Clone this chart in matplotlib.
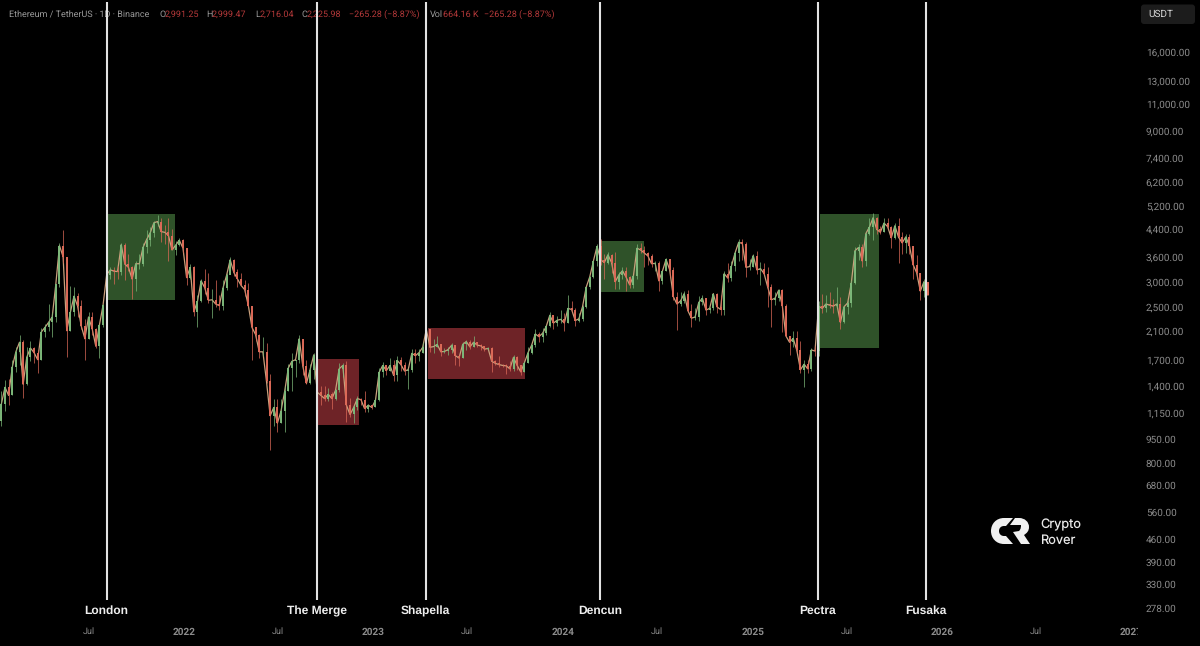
#!/usr/bin/python

import numpy as np
import pandas as pd
import matplotlib as mpl
mpl.use("Agg")
import matplotlib.pyplot as plt
import matplotlib.dates as mdates
from matplotlib.patches import PathPatch, FancyBboxPatch, Rectangle
from matplotlib.path import Path
from matplotlib.transforms import Bbox

mpl.rc('font', family=['Roboto', 'DejaVu Sans'], size=7)
mpl.rc('text', hinting='none', hinting_factor=1)

# weekly candles, one list per calendar year
closes_2021 = [1230,1390,1310,1610,1800,1930,1420,1730,1850,1790,1700,2080,2150,2230,2320,2950,3900,3600,2100,2400,
	2700,2510,2170,1980,2320,2130,1875,2190,2530,3160,3270,3240,3230,3930,3410,3330,3060,3420,3420,3850,
	4080,4290,4610,4650,4320,4300,4200,3780,3920,4060]
highs_2021 = [1350,1470,1480,1690,1870,2040,1960,1870,1950,1870,1830,2140,2200,2545,2400,2950,3980,4372,3570,2900,
	2890,2770,2620,2280,2400,2410,2140,2200,2550,3180,3330,3340,3370,3980,3970,3680,3370,3480,3660,3970,
	4370,4460,4660,4868,4780,4550,4780,4420,4050,4130]
lows_2021 = [1050,1170,1220,1310,1550,1640,1290,1410,1680,1660,1540,1700,2000,2100,2000,2240,2880,3450,1730,2100,
	2340,2320,2130,1700,1980,2040,1850,1720,2150,2440,3050,2950,3050,3150,3030,3240,2650,2800,3280,3370,
	3690,3900,4150,4500,4000,3950,3500,3880,3650,3900]

closes_2022 = [3830,3090,3330,2410,2600,3020,2870,2620,2630,2550,2520,2860,3140,3520,3210,3060,2920,2830,2520,2150,
	2040,1800,1800,1450,1130,1200,1070,1170,1350,1600,1680,1700,1980,1620,1430,1580,1760,1340,1310,1280,
	1320,1280,1360,1590,1630,1220,1140,1200,1280,1270,1190,1220]
highs_2022 = [4100,3840,3420,3370,2720,3060,3280,3200,2840,3040,2730,3040,3190,3580,3550,3300,3190,3030,2970,2450,
	2160,2050,2000,1920,1530,1280,1280,1280,1400,1650,1780,1700,2030,1960,1700,1650,1790,1780,1400,1400,
	1380,1340,1370,1660,1660,1680,1290,1220,1300,1285,1350,1230]
lows_2022 = [3700,2930,3050,2330,2160,2580,2750,2570,2300,2500,2450,2450,2830,3180,3120,2880,2910,2710,2500,1700,
	1950,1720,1750,1430,880,1050,1000,1070,1000,1350,1350,1500,1660,1520,1420,1420,1480,1300,1220,1260,
	1260,1190,1270,1340,1500,1080,1120,1070,1180,1220,1160,1160]

closes_2023 = [1200,1265,1550,1630,1570,1630,1515,1690,1640,1565,1580,1780,1750,1790,1860,2120,1860,1870,1900,1800,
	1805,1830,1890,1750,1720,1900,1940,1865,1930,1890,1880,1835,1845,1680,1655,1640,1630,1625,1590,1730,
	1630,1555,1660,1790,1890,2050,2010,2060,2165,2350,2220,2265,2280]
highs_2023 = [1225,1290,1600,1675,1640,1720,1690,1740,1730,1670,1600,1840,1840,1840,1940,2140,2130,1980,2020,1900,
	1850,1860,1920,1890,1760,1930,1960,1960,2020,1940,1900,1880,1870,1860,1700,1750,1650,1650,1680,1760,
	1750,1600,1680,1860,1910,2130,2080,2140,2190,2400,2310,2340,2450]
lows_2023 = [1190,1200,1260,1500,1520,1560,1450,1460,1570,1520,1370,1550,1660,1680,1780,1840,1800,1790,1860,1740,
	1790,1760,1790,1630,1620,1720,1830,1840,1860,1860,1830,1810,1820,1550,1630,1610,1610,1530,1570,1570,
	1580,1520,1550,1660,1770,1860,1930,1930,2030,2150,2130,2180,2220]

closes_2024 = [2220,2470,2450,2260,2290,2500,2880,3110,3490,3880,3520,3450,3650,3450,3000,3150,3250,3100,2930,3120,
	3830,3780,3700,3620,3420,3430,3020,3240,3530,3270,2690,2550,2610,2750,2430,2300,2320,2580,2660,2440,
	2470,2750,2500,2450,3180,3080,3360,3700,4000,3960,3330,3350]
highs_2024 = [2380,2715,2610,2470,2390,2540,2880,3130,3520,3950,4090,3680,3730,3680,3730,3220,3350,3350,3130,3150,
	3950,3970,3890,3720,3660,3500,3500,3250,3560,3550,3350,2780,2780,2800,2820,2550,2470,2700,2730,2670,
	2500,2770,2770,2720,3240,3450,3500,3740,4090,4110,4000,3550]
lows_2024 = [2100,2220,2400,2170,2230,2260,2470,2850,3080,3360,3400,3050,3420,3200,2850,2850,3060,2810,2870,2860,
	3060,3700,3350,3400,3340,3240,2810,2950,3240,3100,2630,2110,2520,2560,2400,2150,2270,2260,2530,2350,
	2380,2450,2390,2350,2350,3000,3020,3250,3500,3520,3100,3270]

closes_2025 = [3630,3270,3300,3180,2880,2630,2660,2820,2520,2020,1930,1985,1820,1580,1645,1590,1825,1810,2510,2470,
	2550,2530,2510,2550,2230,2500,2570,2970,3760,3850,3490,4260,4470,4780,4390,4300,4600,4480,4130,4510,
	4150,3980,4160,3900,3400,3200,2800,3000,2725.98]
highs_2025 = [3680,3750,3470,3450,3340,2950,2790,2850,2850,2550,2000,2100,2100,1950,1690,1690,1850,1880,2600,2740,
	2730,2790,2640,2880,2680,2520,2620,3040,3860,3940,3940,4300,4790,4950,4800,4500,4770,4770,4500,4590,
	4760,4300,4260,4250,3900,3650,3200,3060,2999.47]
lows_2025 = [3330,3170,2920,3140,2500,2150,2540,2600,2080,2000,1760,1870,1790,1540,1390,1540,1570,1750,1750,2380,
	2400,2470,2380,2480,2120,2220,2370,2500,2940,3510,3350,3360,4220,4060,4250,4260,4300,4400,3840,4090,
	3450,3680,3700,3680,3060,3060,2620,2680,2716.04]

first_week = "2021-01-11"
first_open = 1090

# protocol upgrades
event_names = ["London", "The Merge", "Shapella", "Dencun", "Pectra", "Fusaka"]
event_dates = ["2021-08-05", "2022-09-15", "2023-04-12", "2024-03-13", "2025-05-06", "2025-12-01"]

# shaded ranges after each upgrade
box_starts = ["2021-08-07", "2022-09-17", "2023-04-17", "2024-03-15", "2025-05-10"]
box_ends = ["2021-12-15", "2022-12-05", "2023-10-20", "2024-06-05", "2025-09-01"]
box_tops = [4915, 1714, 2147, 4036, 4915]
box_bottoms = [2625, 1056, 1480, 2782, 1850]
box_colors = ["#2f5229", "#6e2327", "#6e2327", "#2f5229", "#2f5229"]

price_ticks = [16000, 13000, 11000, 9000, 7400, 6200, 5200, 4400, 3600, 3000, 2500, 2100,
	1700, 1400, 1150, 950, 800, 680, 560, 460, 390, 330, 278]
month_ticks = ["2021-07-01", "2022-07-01", "2023-07-01", "2024-07-01", "2025-07-01", "2026-07-01"]
year_ticks = ["2022-01-01", "2023-01-01", "2024-01-01", "2025-01-01", "2026-01-01", "2027-01-01"]

closes = closes_2021 + closes_2022 + closes_2023 + closes_2024 + closes_2025
highs = highs_2021 + highs_2022 + highs_2023 + highs_2024 + highs_2025
lows = lows_2021 + lows_2022 + lows_2023 + lows_2024 + lows_2025

df = pd.DataFrame({"Close": closes, "High": highs, "Low": lows})
df["Open"] = df.Close.shift(1).fillna(first_open)
df["Date"] = pd.date_range(first_week, periods=len(df), freq="7D") + pd.Timedelta(days=3)

GREEN = "#7db87a"
RED = "#dd6a58"
GREY = "#8c8c8c"

fig = plt.figure(figsize=(12, 6.46), dpi=100, facecolor="black")

# overlay in pixel coordinates, under the chart: header, currency box, logo
px = fig.add_axes([0, 0, 1, 1], zorder=0)
px.set_xlim(0, 1200)
px.set_ylim(646, 0)
px.axis("off")

# main chart, full bleed, axis limits give the same scale as the picture
ax = fig.add_axes([0, 0, 1, 1], zorder=1)
ax.patch.set_visible(False)
ax.set_yscale("log")
ax.set_ylim(211, 23370)
x0 = mdates.date2num(pd.Timestamp("2022-01-01")) - 184 / 0.5189
ax.set_xlim(x0, x0 + 1200 / 0.5189)
for s in ax.spines.values():
	s.set_visible(False)

# boxes
for start, end, top, bottom, color in zip(box_starts, box_ends, box_tops, box_bottoms, box_colors):
	left = mdates.date2num(pd.Timestamp(start))
	right = mdates.date2num(pd.Timestamp(end))
	ax.add_patch(Rectangle((left, bottom), right - left, top - bottom, facecolor=color, edgecolor="none", zorder=1))

# candles, the close line fills the gaps left by the weekly sampling
ax.plot(df.Date, df.Close, color="#c9a07c", lw=0.9, zorder=2)
up = df.Close >= df.Open
for mask, color in [(up, GREEN), (~up, RED)]:
	part = df[mask]
	ax.vlines(part.Date, part.Low, part.High, color=color, lw=0.5, zorder=2, capstyle="butt")
	ax.vlines(part.Date, part[["Open", "Close"]].min(axis=1), part[["Open", "Close"]].max(axis=1),
		color=color, lw=1.4, zorder=3, capstyle="butt")

# upgrade lines and names
for name, date in zip(event_names, event_dates):
	d = pd.Timestamp(date)
	ax.vlines(d, 295, 23000, color="#e2e2e2", lw=1.5, zorder=4, capstyle="butt")
	ax.annotate(name, xy=(d, 272), ha="center", va="center", color="#eeeeee", size=8.8,
		family=["Liberation Sans"], weight="bold", zorder=5)

# price axis written inside the picture
ax.minorticks_off()
ax.yaxis.tick_right()
ax.set_yticks(price_ticks)
ax.set_yticklabels(["{:,.2f}".format(p) for p in price_ticks])
ax.yaxis.set_minor_locator(mpl.ticker.NullLocator())
ax.tick_params(axis="y", length=0, pad=-39, labelcolor=GREY, labelsize=7)

# time axis, months thin and years bold
month_nums = [mdates.date2num(pd.Timestamp(d)) for d in month_ticks]
year_nums = [mdates.date2num(pd.Timestamp(d)) for d in year_ticks]
ax.set_xticks(month_nums + year_nums)
ax.set_xticklabels(["Jul"] * len(month_nums) + [d[:4] for d in year_ticks])
ax.tick_params(axis="x", length=0, pad=-13.5, labelcolor=GREY, labelsize=6.8)
clip = Bbox([[0, 0], [1138, 646]])
for label, num in zip(ax.get_xticklabels(), month_nums + year_nums):
	label.set_clip_box(clip)
	label.set_clip_on(True)
	if num in year_nums:
		label.set_fontweight("bold")
		label.set_fontsize(7.2)

# header
header = [
	(9, "Ethereum / TetherUS · 1D · Binance", "#9a9a9a", 6.25),
	(159, "O", "#9a9a9a", 6.4), (165, "2,991.25", "#b5393a", 6.5),
	(206, "H", "#9a9a9a", 6.4), (212, "2,999.47", "#b5393a", 6.5),
	(255, "L", "#9a9a9a", 6.4), (260, "2,716.04", "#b5393a", 6.5),
	(301, "C", "#9a9a9a", 6.4), (307, "2,225.98", "#b5393a", 6.5),
	(349, "\u2212265.28 (\u22128.87%)", "#b5393a", 6.5),
	(430, "Vol", "#9a9a9a", 6.4), (443, "664.16 K", "#b5393a", 6.5),
	(484, "\u2212265.28 (\u22128.87%)", "#b5393a", 6.5),
]
for x, s, color, size in header:
	px.text(x, 14.5, s, color=color, size=size, ha="left", va="center")

# currency box
px.add_patch(FancyBboxPatch((1141, 4.5), 54, 19.5, boxstyle="round,pad=0,rounding_size=3",
	facecolor="#1c1c1c", edgecolor="none"))
px.text(1148, 14.5, "USDT", color="#d6d6d6", size=7, ha="left", va="center")

# logo
C4 = Path.CURVE4
LT = Path.LINETO
c_verts = [(1013, 518), (1004, 518), (996, 518), (991, 524), (991, 531), (991, 538), (996, 544), (1004, 544),
	(1013, 544), (1006, 536), (1004, 536), (1001, 536), (999, 534), (999, 531), (999, 528), (1001, 526), (1004, 526),
	(1006, 526), (1013, 518)]
c_codes = [Path.MOVETO, LT, C4, C4, C4, C4, C4, C4, LT, LT, LT, C4, C4, C4, C4, C4, C4, LT, Path.CLOSEPOLY]
r_verts = [(1015, 518), (1019, 518), (1025, 518), (1029, 522), (1029, 527), (1029, 531), (1027, 533), (1024, 535),
	(1030, 544), (1021, 544), (1013, 532), (1019, 531), (1021, 529), (1021, 527), (1021, 525), (1019, 525), (1017, 525),
	(1010, 525), (1015, 518)]
r_codes = [Path.MOVETO, LT, C4, C4, C4, C4, C4, C4, LT, LT, LT, LT, C4, C4, C4, C4, C4, LT, Path.CLOSEPOLY]
for verts, codes in [(c_verts, c_codes), (r_verts, r_codes)]:
	px.add_patch(PathPatch(Path(verts, codes), facecolor="#f0f0f0", edgecolor="none"))
px.text(1040, 528.5, "Crypto", color="#e8e8e8", size=9.2, ha="left", va="baseline", family=["Inter"])
px.text(1040, 543.5, "Rover", color="#e8e8e8", size=9.2, ha="left", va="baseline", family=["Inter"])

fig.savefig("out.png", dpi=100, facecolor="black")
